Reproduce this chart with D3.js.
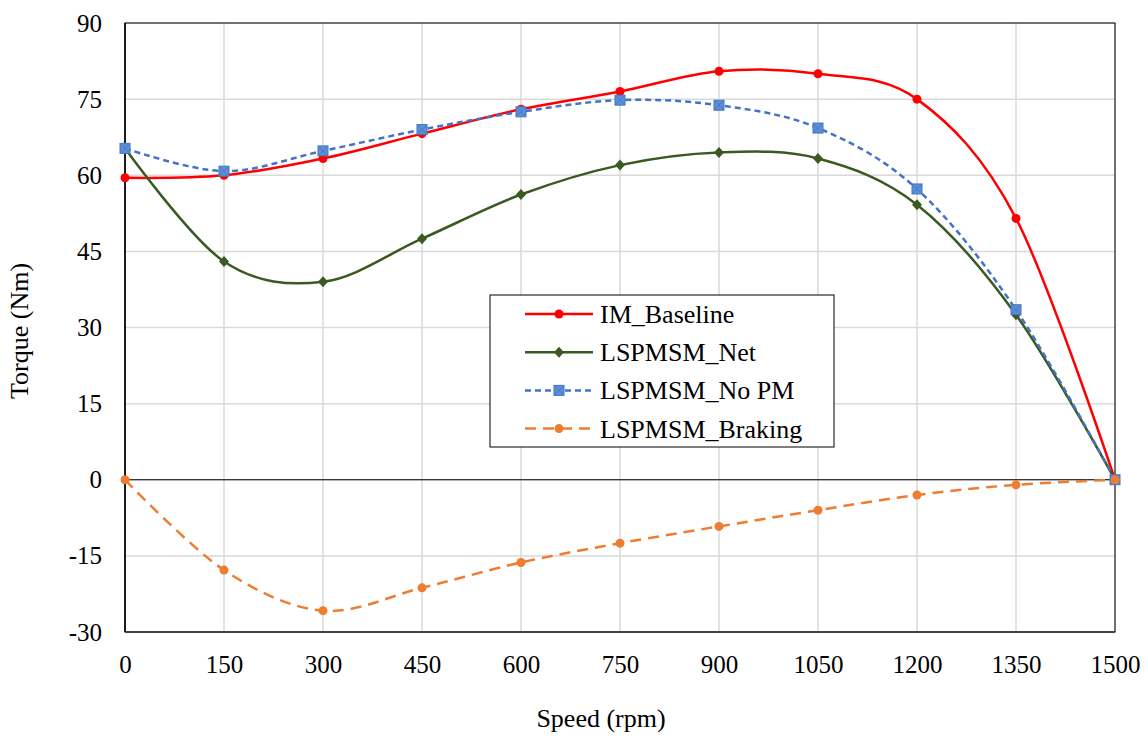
<!DOCTYPE html>
<html><head><meta charset="utf-8">
<script src="https://cdn.jsdelivr.net/npm/d3@7"></script>
<style>body{margin:0;background:#fff;} svg text{font-family:'Liberation Serif','Times New Roman',Times,'DejaVu Serif',serif !important;}</style>
</head><body>
<svg id="c" width="1148" height="738"></svg>
<script>
const speeds = [0,150,300,450,600,750,900,1050,1200,1350,1500];
const imBaseline = [59.5,60,63.3,68.2,73,76.5,80.5,80,75,51.5,0];
const lspmsmNet = [65.3,43,39,47.5,56.2,62,64.5,63.3,54.2,32.5,0];
const lspmsmNoPM = [65.3,60.8,64.8,69,72.5,74.8,73.8,69.3,57.3,33.5,0];
const lspmsmBraking = [0,-17.8,-25.8,-21.3,-16.3,-12.5,-9.2,-6,-3,-1,0];
const xTicks = [0,150,300,450,600,750,900,1050,1200,1350,1500];
const yTicks = [-30,-15,0,15,30,45,60,75,90];
const seriesNames = ["IM_Baseline","LSPMSM_Net","LSPMSM_No PM","LSPMSM_Braking"];

const FONT = "'Liberation Serif','Times New Roman',Times,'DejaVu Serif',serif";
const svg = d3.select("#c");
const L=125,R=1115,T=23,B=632;
const x = d3.scaleLinear().domain([0,1500]).range([L,R]);
const y = d3.scaleLinear().domain([-30,90]).range([B,T]);

// grid
svg.append("g").selectAll("line").data(xTicks).join("line")
  .attr("x1",d=>x(d)).attr("x2",d=>x(d)).attr("y1",T).attr("y2",B)
  .attr("stroke","#d9d9d9").attr("stroke-width",1.5);
svg.append("g").selectAll("line").data(yTicks).join("line")
  .attr("x1",L).attr("x2",R).attr("y1",d=>y(d)).attr("y2",d=>y(d))
  .attr("stroke","#d9d9d9").attr("stroke-width",1.5);
// border
svg.append("rect").attr("x",L).attr("y",T).attr("width",R-L).attr("height",B-T)
  .attr("fill","none").attr("stroke","#000").attr("stroke-width",1);
svg.append("line").attr("x1",L).attr("x2",R).attr("y1",y(0)).attr("y2",y(0)).attr("stroke","#000").attr("stroke-width",1.2);
svg.append("line").attr("x1",L).attr("x2",L).attr("y1",T).attr("y2",B).attr("stroke","#000").attr("stroke-width",1.5);
svg.append("line").attr("x1",L).attr("x2",R).attr("y1",B).attr("y2",B).attr("stroke","#333").attr("stroke-width",1.5);

// axes
const xa = svg.append("g").attr("transform",`translate(0,${B})`)
  .call(d3.axisBottom(x).tickValues(xTicks).tickSize(0).tickPadding(23).tickFormat(d=>String(d)));
xa.select(".domain").remove();
xa.attr("font-family",null).attr("font-size",null);
xa.selectAll("text").style("font-size","25px").style("font-family",FONT).attr("fill","#000");
const ya = svg.append("g").attr("transform",`translate(${L},0)`)
  .call(d3.axisLeft(y).tickValues(yTicks).tickSize(0).tickPadding(23).tickFormat(d=>String(d)));
ya.select(".domain").remove();
ya.attr("font-family",null).attr("font-size",null);
ya.selectAll("text").style("font-size","25px").style("font-family",FONT).attr("fill","#000");

svg.append("text").attr("x",601).attr("y",727).attr("text-anchor","middle").style("font-size","26px").style("font-family",FONT).text("Speed (rpm)");
svg.append("text").attr("transform","translate(28,331) rotate(-90)").attr("text-anchor","middle").style("font-size","26px").style("font-family",FONT).text("Torque (Nm)");

const series = [
  {name:seriesNames[0], vals:imBaseline, color:"#ff0000", dash:null, marker:"circle"},
  {name:seriesNames[1], vals:lspmsmNet, color:"#3a5a22", dash:null, marker:"diamond"},
  {name:seriesNames[2], vals:lspmsmNoPM, color:"#4472c4", dash:"6,4", marker:"square"},
  {name:seriesNames[3], vals:lspmsmBraking, color:"#ed7d31", dash:"11,7", marker:"circle"}
];
const line = d3.line().x(d=>x(d[0])).y(d=>y(d[1])).curve(d3.curveCatmullRom.alpha(0));
function marker(g, type, color, cx, cy){
  if(type==="circle") g.append("circle").attr("cx",cx).attr("cy",cy).attr("r",4.5).attr("fill",color);
  else if(type==="diamond") g.append("path").attr("d",`M${cx},${cy-5.5}L${cx+5},${cy}L${cx},${cy+5.5}L${cx-5},${cy}Z`).attr("fill",color);
  else { g.append("rect").attr("x",cx-5).attr("y",cy-5).attr("width",10).attr("height",10).attr("fill","#5b8fd6").attr("stroke","#4472c4").attr("stroke-width",1);
    g.append("path").attr("d",`M${cx-4},${cy-4}L${cx+4},${cy+4}M${cx+4},${cy-4}L${cx-4},${cy+4}`).attr("stroke","#4472c4").attr("stroke-width",0.8);}
}
series.forEach(s=>{
  const pts = speeds.map((v,i)=>[v,s.vals[i]]);
  svg.append("path").attr("d",line(pts)).attr("fill","none").attr("stroke",s.color)
    .attr("stroke-width",2.5).attr("stroke-dasharray",s.dash);
  const g = svg.append("g");
  pts.forEach(p=>marker(g,s.marker,s.color,x(p[0]),y(p[1])));
});

// legend
const lg = svg.append("g");
lg.append("rect").attr("x",490).attr("y",295).attr("width",344).attr("height",152).attr("fill","#fff").attr("stroke","#000").attr("stroke-width",1);
series.forEach((s,i)=>{
  const cy = 314 + i*38.2;
  lg.append("line").attr("x1",525).attr("x2",593).attr("y1",cy).attr("y2",cy).attr("stroke",s.color).attr("stroke-width",2.5).attr("stroke-dasharray",s.dash);
  marker(lg,s.marker,s.color,559,cy);
  lg.append("text").attr("x",600).attr("y",cy+9).style("font-size","26px").style("font-family",FONT).text(s.name);
});
</script>
</body></html>
